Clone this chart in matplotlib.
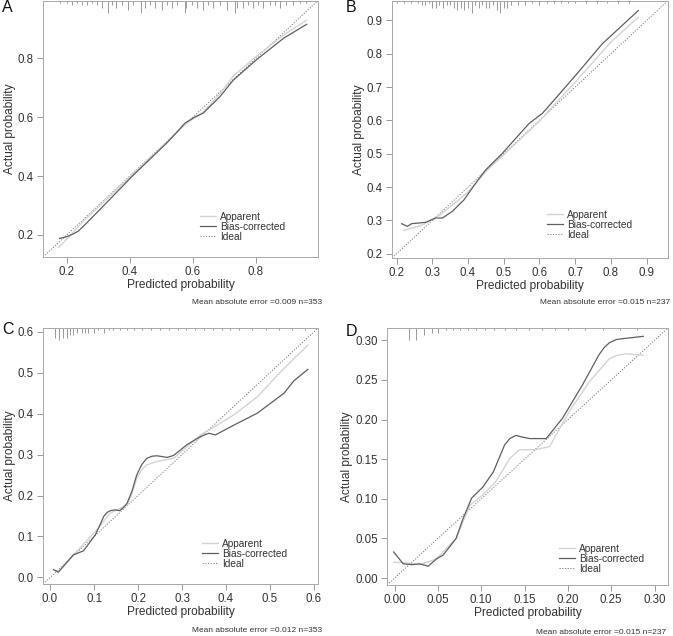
import matplotlib

matplotlib.use("Agg")
import matplotlib.pyplot as plt
import matplotlib.transforms as mtransforms
from matplotlib.ticker import FormatStrFormatter, MultipleLocator

plt.rcParams["font.family"] = ["Liberation Sans", "DejaVu Sans"]

# ---- panel A (n=353) ----
a_app_x = [0.174, 0.200, 0.253, 0.306, 0.411, 0.517, 0.575, 0.633, 0.686, 0.728, 0.800, 0.887, 0.961]
a_app_y = [0.157, 0.185, 0.247, 0.300, 0.407, 0.515, 0.575, 0.618, 0.680, 0.740, 0.806, 0.879, 0.930]
a_bc_x = [0.177, 0.200, 0.220, 0.237, 0.260, 0.306, 0.411, 0.517, 0.550, 0.575, 0.605, 0.633,
          0.686, 0.728, 0.800, 0.887, 0.930, 0.961]
a_bc_y = [0.188, 0.194, 0.203, 0.213, 0.237, 0.287, 0.403, 0.512, 0.550, 0.580, 0.600, 0.614,
          0.670, 0.726, 0.794, 0.868, 0.896, 0.916]
a_rug_x = [0.179, 0.200, 0.216, 0.232, 0.248, 0.263, 0.279, 0.295, 0.311, 0.331, 0.343, 0.358,
           0.374, 0.395, 0.411, 0.435, 0.448, 0.464, 0.480, 0.501, 0.517, 0.533, 0.549, 0.575,
           0.580, 0.596, 0.612, 0.633, 0.649, 0.665, 0.686, 0.707, 0.733, 0.739, 0.760, 0.776,
           0.792, 0.807, 0.823, 0.844, 0.860, 0.876, 0.897, 0.918, 0.939, 0.960]
a_rug_n = [1, 1, 2, 1, 2, 2, 1, 2, 3, 5, 2, 3, 2, 4, 2, 5, 3, 2, 3, 4, 2, 3, 2, 5,
           3, 2, 3, 4, 2, 3, 2, 4, 5, 3, 3, 2, 3, 2, 3, 2, 2, 3, 2, 2, 1, 1]

# ---- panel B (n=237) ----
b_app_x = [0.220, 0.270, 0.320, 0.400, 0.450, 0.500, 0.600, 0.700, 0.800, 0.877]
b_app_y = [0.270, 0.285, 0.315, 0.385, 0.447, 0.497, 0.598, 0.715, 0.835, 0.910]
b_bc_x = [0.214, 0.230, 0.242, 0.281, 0.309, 0.328, 0.356, 0.389, 0.421, 0.449, 0.496,
          0.571, 0.608, 0.645, 0.701, 0.776, 0.877]
b_bc_y = [0.290, 0.282, 0.290, 0.294, 0.307, 0.307, 0.327, 0.362, 0.411, 0.451, 0.501,
          0.591, 0.621, 0.666, 0.735, 0.830, 0.930]
b_rug_x = [0.20, 0.22, 0.24, 0.26, 0.27, 0.28, 0.29, 0.30, 0.31, 0.32, 0.33, 0.34, 0.35,
           0.36, 0.37, 0.38, 0.39, 0.40, 0.41, 0.42, 0.43, 0.44, 0.45, 0.46, 0.47, 0.48,
           0.49, 0.50, 0.51, 0.52, 0.54, 0.56, 0.58, 0.60, 0.62, 0.64, 0.66, 0.68, 0.70,
           0.73, 0.76, 0.79, 0.82, 0.85]
b_rug_n = [1, 1, 1, 1, 2, 2, 1, 3, 3, 2, 3, 2, 2, 3, 4, 3, 4, 3, 5, 2, 3, 2, 3, 3, 2, 4,
           5, 3, 3, 2, 2, 2, 1, 2, 1, 1, 1, 1, 1, 1, 1, 1, 1, 1]

# ---- panel C (n=353) ----
c_app_x = [0.008, 0.020, 0.053, 0.103, 0.137, 0.175, 0.186, 0.197, 0.208, 0.220, 0.243,
           0.281, 0.342, 0.380, 0.418, 0.471, 0.532, 0.586]
c_app_y = [0.018, 0.015, 0.055, 0.112, 0.157, 0.177, 0.205, 0.242, 0.262, 0.275, 0.283,
           0.291, 0.348, 0.372, 0.397, 0.441, 0.511, 0.567]
c_bc_x = [0.008, 0.019, 0.053, 0.076, 0.103, 0.113, 0.122, 0.130, 0.137, 0.148, 0.158,
          0.166, 0.175, 0.186, 0.197, 0.208, 0.220, 0.232, 0.243, 0.255, 0.266, 0.281,
          0.311, 0.342, 0.361, 0.376, 0.418, 0.471, 0.532, 0.554, 0.586]
c_bc_y = [0.019, 0.013, 0.055, 0.065, 0.104, 0.127, 0.149, 0.159, 0.163, 0.165, 0.163,
          0.170, 0.181, 0.210, 0.250, 0.275, 0.291, 0.296, 0.297, 0.295, 0.293, 0.298,
          0.324, 0.344, 0.352, 0.348, 0.372, 0.401, 0.450, 0.480, 0.508]
c_rug_x = [0.011, 0.021, 0.030, 0.038, 0.046, 0.053, 0.061, 0.072, 0.080, 0.087, 0.099,
           0.110, 0.122, 0.133, 0.144, 0.159, 0.175, 0.19, 0.21, 0.23, 0.25, 0.27, 0.29,
           0.31, 0.33, 0.35, 0.37, 0.39, 0.41, 0.43, 0.46, 0.49, 0.52, 0.55, 0.58]
c_rug_n = [4, 5, 4, 4, 3, 3, 2, 2, 2, 2, 2, 1, 2, 1, 1, 1, 1, 1, 1, 1, 1, 1, 1,
           1, 1, 1, 1, 1, 1, 1, 1, 1, 1, 1, 1]

# ---- panel D (n=237) ----
d_app_x = [-0.001, 0.014, 0.029, 0.048, 0.071, 0.087, 0.102, 0.117, 0.133, 0.144, 0.163,
           0.179, 0.202, 0.225, 0.248, 0.257, 0.267, 0.287]
d_app_y = [0.020, 0.019, 0.017, 0.024, 0.050, 0.092, 0.105, 0.122, 0.151, 0.162, 0.162,
           0.166, 0.211, 0.248, 0.277, 0.281, 0.283, 0.281]
d_bc_x = [-0.001, 0.010, 0.020, 0.029, 0.039, 0.048, 0.056, 0.071, 0.079, 0.089, 0.102,
          0.114, 0.127, 0.133, 0.140, 0.147, 0.156, 0.175, 0.194, 0.217, 0.236, 0.242,
          0.248, 0.256, 0.263, 0.287]
d_bc_y = [0.033, 0.018, 0.017, 0.018, 0.015, 0.024, 0.029, 0.050, 0.075, 0.101, 0.115,
          0.134, 0.168, 0.176, 0.180, 0.178, 0.176, 0.176, 0.202, 0.244, 0.282, 0.291,
          0.297, 0.301, 0.302, 0.305]
d_rug_x = [0.017, 0.025, 0.034, 0.043, 0.050, 0.059, 0.067, 0.075, 0.085, 0.094, 0.104,
           0.115, 0.127, 0.140, 0.155, 0.170, 0.185, 0.200, 0.220, 0.240, 0.260, 0.280]
d_rug_n = [5, 5, 3, 2, 2, 1, 1, 1, 1, 1, 1, 1, 1, 1, 1, 1, 1, 1, 1, 1, 1, 1]

mae_text = {
    "A": "Mean absolute error =0.009 n=353",
    "B": "Mean absolute error =0.015 n=237",
    "C": "Mean absolute error =0.012 n=353",
    "D": "Mean absolute error =0.015 n=237",
}

W, H = 673, 636
fig = plt.figure(figsize=(W / 100, H / 100), dpi=100)


def px_rect(left, top, right, bottom):
    return [left / W, 1 - bottom / H, (right - left) / W, (bottom - top) / H]


def draw_panel(letter, rect, lims, step, fmt, app, bc, rug, leg_xy, mae_xy, letter_xy):
    ax = fig.add_axes(rect)
    lo, hi = lims
    ax.set_xlim(lo, hi)
    ax.set_ylim(lo, hi)
    ax.plot([lo, hi], [lo, hi], color="#7a7a7a", lw=0.7, ls=(0, (1.2, 1.6)), label="Ideal", zorder=2)
    ax.plot(app[0], app[1], color="#d4d4d4", lw=1.0, label="Apparent", zorder=3)
    ax.plot(bc[0], bc[1], color="#5f5f5f", lw=0.9, label="Bias-corrected", zorder=4)

    trans = mtransforms.blended_transform_factory(ax.transData, ax.transAxes)
    heights = [n * 0.0095 for n in rug[1]]
    ax.vlines(rug[0], [1 - h for h in heights], 1, transform=trans, color="#9a9a9a", lw=0.7)

    ax.xaxis.set_major_locator(MultipleLocator(step))
    ax.yaxis.set_major_locator(MultipleLocator(step))
    ax.xaxis.set_major_formatter(FormatStrFormatter(fmt))
    ax.yaxis.set_major_formatter(FormatStrFormatter(fmt))
    ax.tick_params(length=4.5, width=0.6, color="#8a8a8a", labelsize=8.3, pad=2, labelcolor="#333333")
    for s in ax.spines.values():
        s.set_color("#a8a8a8")
        s.set_linewidth(0.7)
    ax.set_xlabel("Predicted probability", fontsize=8.6, color="#333333", labelpad=1.0)
    ax.set_ylabel("Actual probability", fontsize=8.6, color="#333333", labelpad=1.5)

    handles, labels = ax.get_legend_handles_labels()
    order = [1, 2, 0]
    ax.legend([handles[i] for i in order], [labels[i] for i in order],
              loc="upper left", bbox_to_anchor=(leg_xy[0] / W, 1 - leg_xy[1] / H),
              bbox_transform=fig.transFigure, frameon=False, fontsize=7.3,
              handlelength=1.6, handletextpad=0.35, labelspacing=0.0,
              borderpad=0, borderaxespad=0, labelcolor="#333333")

    fig.text(mae_xy[0] / W, 1 - mae_xy[1] / H, mae_text[letter], fontsize=6.0,
             ha="right", va="center", color="#333333")
    fig.text(letter_xy[0] / W, 1 - letter_xy[1] / H, letter, fontsize=11.5,
             ha="left", va="center", color="#111111")
    return ax


draw_panel("A", px_rect(43, 0.5, 318, 257), (0.125, 0.997), 0.2, "%.1f",
           (a_app_x, a_app_y), (a_bc_x, a_bc_y), (a_rug_x, a_rug_n),
           (200, 212), (322, 303), (2, 7))
draw_panel("B", px_rect(392, 0.5, 668, 258), (0.187, 0.960), 0.1, "%.1f",
           (b_app_x, b_app_y), (b_bc_x, b_bc_y), (b_rug_x, b_rug_n),
           (547, 210), (670, 303), (346, 8))
draw_panel("C", px_rect(43, 328, 318, 584), (-0.016, 0.609), 0.1, "%.1f",
           (c_app_x, c_app_y), (c_bc_x, c_bc_y), (c_rug_x, c_rug_n),
           (202, 539), (322, 631), (2, 330))
draw_panel("D", px_rect(387, 328, 668, 585), (-0.0087, 0.3155), 0.05, "%.2f",
           (d_app_x, d_app_y), (d_bc_x, d_bc_y), (d_rug_x, d_rug_n),
           (559, 544), (666, 632), (346, 331))

fig.savefig("out.png", dpi=100)
plt.close(fig)
